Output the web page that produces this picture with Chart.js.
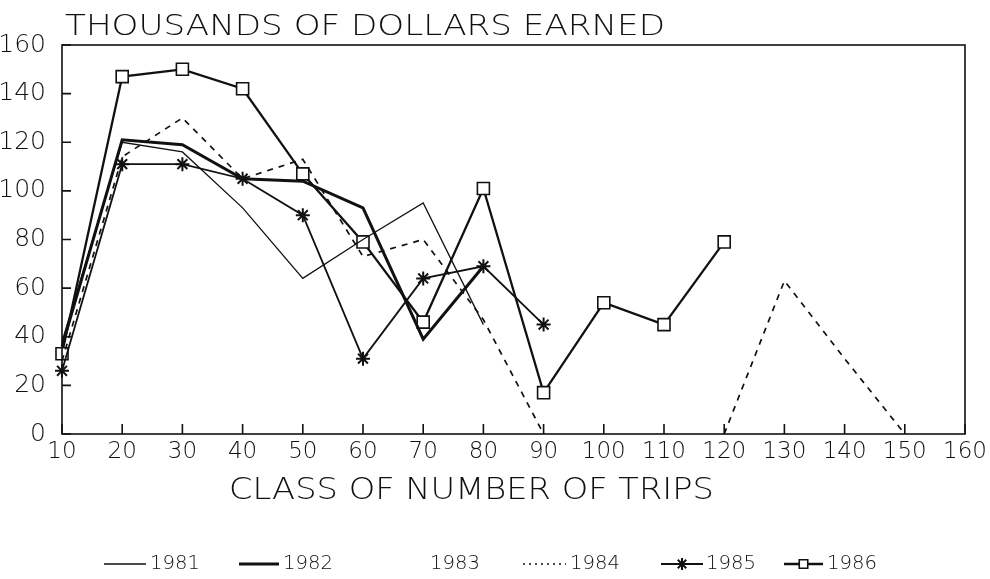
<!DOCTYPE html>
<html>
<head>
<meta charset="utf-8">
<script src="https://cdn.jsdelivr.net/npm/chart.js@4.4.0/dist/chart.umd.min.js"></script>
<style>
  html, body { margin: 0; padding: 0; background: #fff; }
  #wrap { width: 990px; height: 579px; }
</style>
</head>
<body>
<div id="wrap"><canvas id="myChart" width="990" height="579"></canvas></div>
<script>
'use strict';

// DATA

let tripClasses = [10, 20, 30, 40, 50, 60, 70, 80, 90, 100, 110, 120, 130, 140, 150, 160];
let dollarTicks = [0, 20, 40, 60, 80, 100, 120, 140, 160];

let years = ['1981', '1982', '1983', '1984', '1985', '1986'];

let earned1981 = [38, 120, 116, 93, 64, 80, 95, 45, null, null, null, null, null, null, null, null];
let earned1982 = [36, 121, 119, 105, 104, 93, 39, 69, null, null, null, null, null, null, null, null];
let earned1983 = [null, null, null, null, null, null, null, null, null, null, null, null, null, null, null, null];
let earned1984 = [30, 114, 130, 105, 113, 73, 80, 47, 0, null, null, 0, 63, 31, 0, null];
let earned1985 = [26, 111, 111, 105, 90, 31, 64, 69, 45, null, null, null, null, null, null, null];
let earned1986 = [33, 147, 150, 142, 107, 79, 46, 101, 17, 54, 45, 79, null, null, null, null];

let chartTitle = 'THOUSANDS OF DOLLARS EARNED';
let xTitle = 'CLASS OF NUMBER OF TRIPS';

const FONT = '"DejaVu Sans", sans-serif';
const WEIGHT = 200;
const INK = '#111';

// one style per year, same order as years
let yearStyles = [
  { data: earned1981, borderWidth: 1.3, dash: [], pointStyle: false },
  { data: earned1982, borderWidth: 3, dash: [], pointStyle: false },
  { data: earned1983, borderWidth: 0, dash: [], pointStyle: false },
  { data: earned1984, borderWidth: 1.7, dash: [6, 6], pointStyle: false },
  { data: earned1985, borderWidth: 1.8, dash: [], pointStyle: 'star' },
  { data: earned1986, borderWidth: 2.3, dash: [], pointStyle: 'rect' }
];

let datasets = [];
for (let i = 0; i < years.length; i++) {
  let s = yearStyles[i];
  datasets.push({
    label: years[i],
    data: s.data,
    borderColor: INK,
    backgroundColor: '#fff',
    borderWidth: s.borderWidth,
    borderDash: s.dash,
    pointStyle: s.pointStyle,
    pointRadius: s.pointStyle === 'rect' ? 8.5 : (s.pointStyle ? 7 : 0),
    pointBorderWidth: s.pointStyle === 'rect' ? 1.6 : 2,
    pointBorderColor: INK,
    pointBackgroundColor: s.pointStyle === 'rect' ? '#fff' : INK,
    tension: 0,
    spanGaps: false,
    fill: false
  });
}

// where the legend samples and labels sit along the bottom row
let legendSlots = [
  { x0: 104, x1: 146, tx: 150 },
  { x0: 239, x1: 279, tx: 283 },
  { x0: 0, x1: 0, tx: 430 },
  { x0: 523, x1: 566, tx: 570 },
  { x0: 661, x1: 703, tx: 706 },
  { x0: 784, x1: 823, tx: 827 }
];

// draws text stretched sideways to a given width
function wideText(ctx, text, x, y, width) {
  let w = ctx.measureText(text).width;
  ctx.save();
  ctx.translate(x, y);
  ctx.scale(width / w, 1);
  ctx.fillText(text, 0, 0);
  ctx.restore();
}

const framePlugin = {
  id: 'frame',
  beforeDraw(chart) {
    let ctx = chart.ctx;
    ctx.save();
    ctx.fillStyle = '#fff';
    ctx.fillRect(0, 0, chart.width, chart.height);
    ctx.restore();
  },
  afterDraw(chart) {
    let ctx = chart.ctx;
    let area = chart.chartArea;
    let xs = chart.scales.x;
    let ys = chart.scales.y;
    ctx.save();
    ctx.strokeStyle = INK;
    ctx.fillStyle = INK;

    // box round the plot
    ctx.lineWidth = 1.6;
    ctx.strokeRect(area.left, area.top, area.right - area.left, area.bottom - area.top);

    // tick marks point inwards
    ctx.beginPath();
    for (let v of dollarTicks) {
      let py = ys.getPixelForValue(v);
      ctx.moveTo(area.left, py);
      ctx.lineTo(area.left + 9, py);
    }
    for (let i = 0; i < tripClasses.length; i++) {
      let px = xs.getPixelForValue(i);
      ctx.moveTo(px, area.bottom);
      ctx.lineTo(px, area.bottom - 10);
    }
    ctx.stroke();

    // titles
    ctx.textBaseline = 'alphabetic';
    ctx.textAlign = 'left';
    ctx.font = WEIGHT + ' 28px ' + FONT;
    wideText(ctx, chartTitle, 65, 35, 600);
    ctx.font = WEIGHT + ' 30px ' + FONT;
    wideText(ctx, xTitle, 229, 499, 485);

    // legend row
    let ly = 564;
    ctx.font = WEIGHT + ' 19px ' + FONT;
    ctx.textBaseline = 'middle';
    for (let i = 0; i < datasets.length; i++) {
      let ds = datasets[i];
      let slot = legendSlots[i];
      if (ds.borderWidth > 0) {
        ctx.save();
        ctx.lineWidth = ds.borderWidth;
        ctx.setLineDash(i === 3 ? [2, 4] : []);
        ctx.beginPath();
        ctx.moveTo(slot.x0, ly);
        ctx.lineTo(slot.x1, ly);
        ctx.stroke();
        ctx.restore();
        if (ds.pointStyle) {
          ctx.save();
          ctx.lineWidth = ds.pointBorderWidth;
          ctx.fillStyle = ds.pointBackgroundColor;
          Chart.helpers.drawPoint(ctx, {
            pointStyle: ds.pointStyle,
            radius: 6,
            rotation: 0,
            borderWidth: ds.pointBorderWidth
          }, (slot.x0 + slot.x1) / 2, ly);
          ctx.restore();
        }
      }
      ctx.fillStyle = INK;
      wideText(ctx, ds.label, slot.tx, ly, 50);
    }
    ctx.restore();
  }
};

const config = {
  type: 'line',
  data: {
    labels: tripClasses,
    datasets: datasets
  },
  options: {
    responsive: false,
    animation: false,
    layout: {
      padding: { top: 45, right: 25, left: 0, bottom: 0 }
    },
    plugins: {
      legend: { display: false },
      tooltip: { enabled: false }
    },
    scales: {
      x: {
        type: 'category',
        offset: false,
        grid: { display: false },
        border: { display: false },
        ticks: {
          color: INK,
          font: { family: FONT, size: 23, weight: WEIGHT },
          padding: -4,
          maxRotation: 0,
          autoSkip: false
        },
        afterFit(scale) {
          scale.height = 145;
        }
      },
      y: {
        min: 0,
        max: 160,
        grid: { display: false },
        border: { display: false },
        ticks: {
          stepSize: 20,
          color: INK,
          font: { family: FONT, size: 25, weight: WEIGHT },
          padding: 8
        },
        afterFit(scale) {
          scale.width = 62;
        }
      }
    }
  },
  plugins: [framePlugin]
};

let canvas = document.getElementById('myChart').getContext('2d');
new Chart(canvas, config);
</script>
</body>
</html>
